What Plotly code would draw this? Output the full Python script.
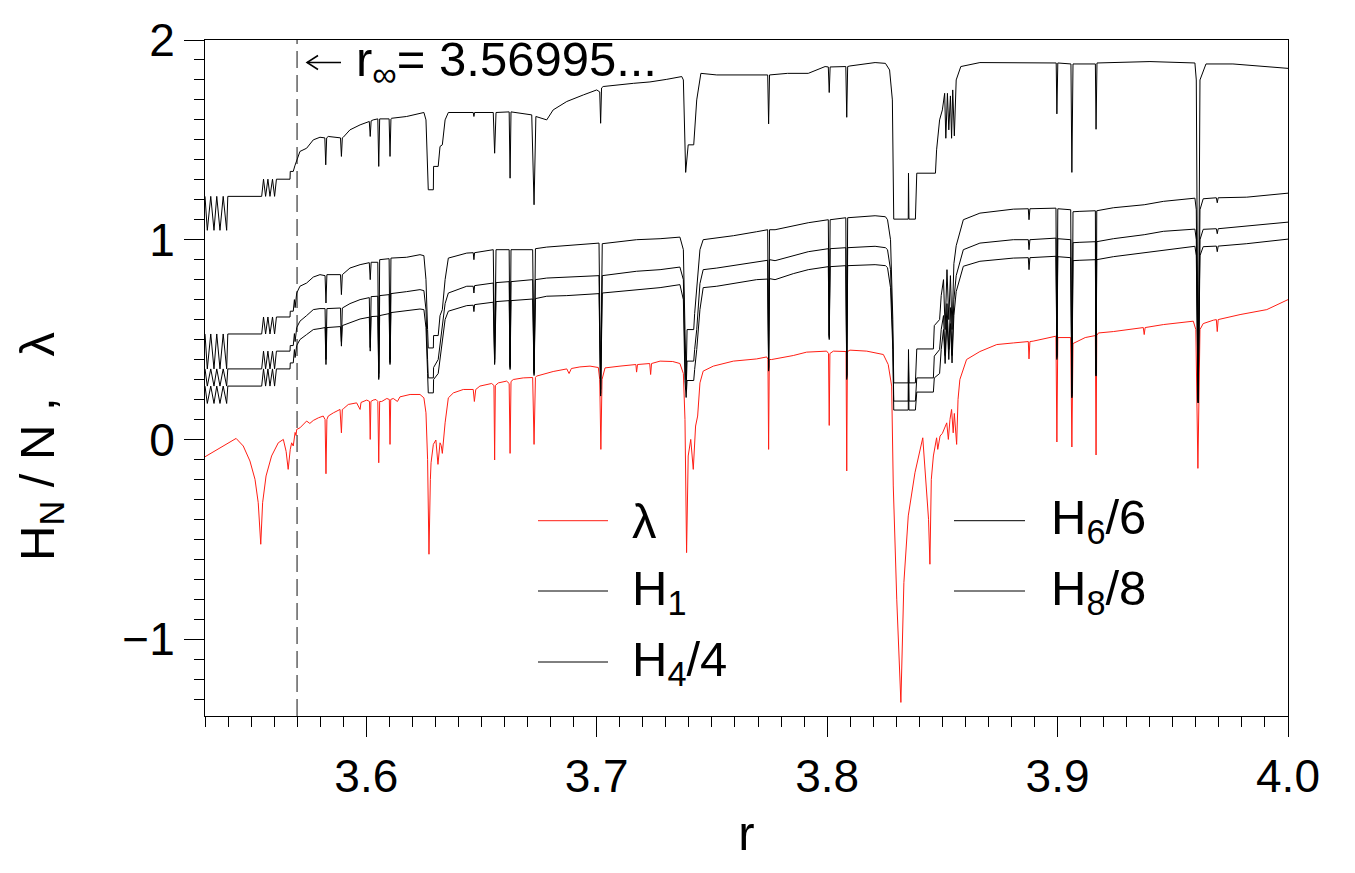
import plotly.graph_objects as go

# ---------------- data ----------------
# Lyapunov exponent lambda(r)
r_lam = [3.5300, 3.5435, 3.5466, 3.5495, 3.5517, 3.5531, 3.5542, 3.5550, 3.5565, 3.5589,
         3.5618, 3.5640, 3.5652, 3.5661, 3.5670, 3.5676, 3.5683, 3.5688, 3.5691, 3.5695,
         3.5698, 3.5712, 3.5741, 3.5755, 3.5770, 3.5792, 3.5813, 3.5821, 3.5825, 3.5829,
         3.5835, 3.5857, 3.5886, 3.5892, 3.5896, 3.5900, 3.5922, 3.5958, 3.5973, 3.5977,
         3.6002, 3.6014, 3.6017, 3.6020, 3.6030, 3.6042, 3.6050, 3.6054, 3.6058, 3.6067,
         3.6089, 3.6100, 3.6103, 3.6106, 3.6117, 3.6135, 3.6146, 3.6190, 3.6233, 3.6250,
         3.6259, 3.6266, 3.6272, 3.6278, 3.6281, 3.6291, 3.6302, 3.6311, 3.6320, 3.6325,
         3.6330, 3.6342, 3.6356, 3.6378, 3.6421, 3.6464, 3.6469, 3.6475, 3.6493, 3.6544,
         3.6554, 3.6557, 3.6560, 3.6573, 3.6609, 3.6620, 3.6624, 3.6628, 3.6638, 3.6681,
         3.6722, 3.6728, 3.6734, 3.6739, 3.6783, 3.6811, 3.6870, 3.6880, 3.6890, 3.6927,
         3.6971, 3.7007, 3.7013, 3.7018, 3.7023, 3.7036, 3.7101, 3.7170, 3.7173, 3.7177,
         3.7230, 3.7234, 3.7238, 3.7275, 3.7330, 3.7361, 3.7376, 3.7383, 3.7390, 3.7397,
         3.7408, 3.7419, 3.7429, 3.7438, 3.7448, 3.7462, 3.7506, 3.7593, 3.7694, 3.7738,
         3.7743, 3.7746, 3.7749, 3.7759, 3.7853, 3.7911, 3.7998, 3.8006, 3.8009, 3.8012,
         3.8027, 3.8082, 3.8085, 3.8088, 3.8099, 3.8172, 3.8244, 3.8265, 3.8280, 3.8287,
         3.8302, 3.8320, 3.8333, 3.8352, 3.8381, 3.8415, 3.8440, 3.8446, 3.8452, 3.8461,
         3.8475, 3.8480, 3.8490, 3.8500, 3.8519, 3.8526, 3.8533, 3.8540, 3.8547, 3.8552,
         3.8562, 3.8568, 3.8576, 3.8591, 3.8605, 3.8663, 3.8736, 3.8808, 3.8873, 3.8876,
         3.8880, 3.8894, 3.8981, 3.8993, 3.8997, 3.9001, 3.9057, 3.9062, 3.9067, 3.9084,
         3.9120, 3.9164, 3.9167, 3.9170, 3.9177, 3.9242, 3.9314, 3.9372, 3.9376, 3.9380,
         3.9459, 3.9589, 3.9600, 3.9609, 3.9618, 3.9632, 3.9676, 3.9689, 3.9693, 3.9697,
         3.9792, 3.9908, 4.0000]
lam = [-0.087, 0.005, -0.033, -0.108, -0.200, -0.317, -0.525, -0.317, -0.183, -0.083,
       -0.017, 0.000, -0.060, -0.150, -0.050, -0.017, -0.033, 0.000, 0.035, 0.020,
       0.050, 0.058, 0.092, 0.080, 0.095, 0.108, 0.117, 0.100, -0.172, 0.100,
       0.117, 0.133, 0.150, 0.033, 0.150, 0.153, 0.175, 0.183, 0.150, 0.185,
       0.197, 0.190, 0.000, 0.190, 0.197, 0.200, 0.190, -0.117, 0.190, 0.190,
       0.205, 0.200, -0.025, 0.200, 0.205, 0.190, 0.213, 0.225, 0.225, 0.208,
       0.133, -0.100, -0.575, -0.200, -0.117, -0.025, -0.003, -0.125, -0.017, -0.030,
       -0.070, 0.083, 0.208, 0.233, 0.250, 0.250, 0.190, 0.250, 0.267, 0.280,
       0.270, -0.103, 0.270, 0.283, 0.292, 0.280, -0.070, 0.290, 0.300, 0.308,
       0.310, -0.025, 0.310, 0.317, 0.330, 0.340, 0.353, 0.330, 0.355, 0.363,
       0.367, 0.360, 0.300, -0.050, 0.300, 0.358, 0.367, 0.375, 0.337, 0.375,
       0.380, 0.325, 0.380, 0.392, 0.390, 0.380, 0.330, 0.100, -0.567, -0.083,
       0.000, -0.150, 0.067, 0.117, 0.283, 0.342, 0.367, 0.392, 0.403, 0.413,
       0.400, -0.050, 0.400, 0.400, 0.420, 0.437, 0.442, 0.430, 0.070, 0.430,
       0.442, 0.440, -0.158, 0.440, 0.447, 0.442, 0.425, 0.375, 0.267, -0.233,
       -0.800, -1.317, -0.717, -0.383, -0.167, 0.008, -0.400, -0.625, -0.200, -0.083,
       0.008, -0.050, 0.017, 0.030, 0.083, 0.000, 0.100, 0.150, 0.033, 0.130,
       -0.025, 0.200, 0.300, 0.350, 0.400, 0.440, 0.475, 0.483, 0.490, 0.403,
       0.490, 0.492, 0.513, 0.517, -0.013, 0.510, 0.510, -0.038, 0.480, 0.490,
       0.510, 0.520, -0.078, 0.520, 0.533, 0.540, 0.553, 0.560, 0.525, 0.560,
       0.575, 0.592, 0.550, -0.145, 0.550, 0.580, 0.597, 0.600, 0.540, 0.600,
       0.625, 0.650, 0.700]

# H1 (block entropy, N = 1)
r_h1 = [3.5300, 3.5310, 3.5325, 3.5339, 3.5351, 3.5365, 3.5379, 3.5394, 3.5399, 3.5546,
        3.5554, 3.5563, 3.5573, 3.5582, 3.5593, 3.5602, 3.5610, 3.5669, 3.5670, 3.5683,
        3.5690, 3.5698, 3.5712, 3.5741, 3.5770, 3.5799, 3.5820, 3.5824, 3.5828, 3.5835,
        3.5888, 3.5892, 3.5896, 3.5900, 3.5929, 3.5973, 3.6013, 3.6017, 3.6021, 3.6030,
        3.6050, 3.6054, 3.6058, 3.6099, 3.6103, 3.6107, 3.6110, 3.6175, 3.6233, 3.6250,
        3.6259, 3.6266, 3.6269, 3.6291, 3.6292, 3.6312, 3.6320, 3.6330, 3.6342, 3.6356,
        3.6436, 3.6464, 3.6467, 3.6470, 3.6551, 3.6557, 3.6563, 3.6620, 3.6624, 3.6628,
        3.6718, 3.6728, 3.6736, 3.6783, 3.6811, 3.6870, 3.6942, 3.7000, 3.7013, 3.7017,
        3.7021, 3.7028, 3.7159, 3.7231, 3.7304, 3.7369, 3.7376, 3.7386, 3.7397, 3.7421,
        3.7434, 3.7452, 3.7521, 3.7742, 3.7746, 3.7750, 3.7828, 3.7918, 3.7991, 3.8005,
        3.8009, 3.8013, 3.8081, 3.8085, 3.8089, 3.8099, 3.8208, 3.8253, 3.8271, 3.8283,
        3.8289, 3.8352, 3.8353, 3.8355, 3.8383, 3.8389, 3.8470, 3.8475, 3.8488, 3.8500,
        3.8510, 3.8515, 3.8522, 3.8528, 3.8535, 3.8540, 3.8545, 3.8552, 3.8560, 3.8580,
        3.8663, 3.8859, 3.8994, 3.8997, 3.9001, 3.9058, 3.9062, 3.9067, 3.9164, 3.9167,
        3.9171, 3.9401, 3.9596, 3.9602, 3.9610, 3.9618, 3.9644, 3.9761, 3.9908, 4.0000]
h1 = [1.217, 1.047, 1.217, 1.047, 1.217, 1.047, 1.217, 1.047, 1.217, 1.217,
      1.303, 1.217, 1.303, 1.217, 1.303, 1.217, 1.303, 1.303, 1.342, 1.342,
      1.370, 1.400, 1.442, 1.458, 1.500, 1.513, 1.510, 1.375, 1.510, 1.517,
      1.510, 1.417, 1.510, 1.513, 1.550, 1.575, 1.592, 1.517, 1.595, 1.600,
      1.605, 1.367, 1.605, 1.605, 1.417, 1.605, 1.608, 1.617, 1.633, 1.637,
      1.600, 1.400, 1.250, 1.250, 1.367, 1.367, 1.467, 1.475, 1.600, 1.637,
      1.637, 1.637, 1.617, 1.637, 1.637, 1.433, 1.637, 1.640, 1.308, 1.640,
      1.625, 1.175, 1.617, 1.600, 1.650, 1.692, 1.725, 1.750, 1.740, 1.583,
      1.760, 1.767, 1.783, 1.790, 1.803, 1.817, 1.800, 1.337, 1.475, 1.475,
      1.700, 1.833, 1.825, 1.825, 1.580, 1.825, 1.833, 1.833, 1.867, 1.865,
      1.737, 1.865, 1.867, 1.613, 1.867, 1.870, 1.887, 1.883, 1.850, 1.700,
      1.103, 1.103, 1.333, 1.103, 1.103, 1.333, 1.333, 1.450, 1.600, 1.650,
      1.733, 1.508, 1.733, 1.550, 1.720, 1.508, 1.750, 1.520, 1.800, 1.867,
      1.887, 1.887, 1.885, 1.630, 1.885, 1.880, 1.337, 1.880, 1.880, 1.553,
      1.885, 1.892, 1.885, 1.800, 0.183, 1.800, 1.880, 1.880, 1.867, 1.858]

# H4/4, H6/6, H8/8 share the same r grid
r_hn = [3.5300, 3.5310, 3.5325, 3.5339, 3.5351, 3.5365, 3.5379, 3.5394, 3.5399, 3.5546,
        3.5554, 3.5563, 3.5573, 3.5582, 3.5593, 3.5602, 3.5610, 3.5669, 3.5670, 3.5683,
        3.5688, 3.5691, 3.5698, 3.5712, 3.5741, 3.5770, 3.5799, 3.5821, 3.5825, 3.5829,
        3.5888, 3.5892, 3.5896, 3.5929, 3.5973, 3.6013, 3.6017, 3.6021, 3.6050, 3.6054,
        3.6058, 3.6099, 3.6103, 3.6107, 3.6175, 3.6233, 3.6250, 3.6259, 3.6266, 3.6269,
        3.6291, 3.6292, 3.6312, 3.6320, 3.6330, 3.6342, 3.6356, 3.6436, 3.6464, 3.6467,
        3.6470, 3.6551, 3.6557, 3.6563, 3.6620, 3.6624, 3.6628, 3.6722, 3.6728, 3.6734,
        3.6783, 3.6870, 3.7010, 3.7017, 3.7024, 3.7173, 3.7275, 3.7361, 3.7376, 3.7383,
        3.7388, 3.7392, 3.7421, 3.7425, 3.7434, 3.7448, 3.7462, 3.7521, 3.7593, 3.7694,
        3.7742, 3.7746, 3.7750, 3.7774, 3.7853, 3.7918, 3.8005, 3.8009, 3.8013, 3.8081,
        3.8085, 3.8089, 3.8208, 3.8253, 3.8262, 3.8275, 3.8285, 3.8289, 3.8352, 3.8353,
        3.8355, 3.8383, 3.8389, 3.8461, 3.8465, 3.8488, 3.8495, 3.8505, 3.8512, 3.8520,
        3.8528, 3.8535, 3.8542, 3.8550, 3.8560, 3.8591, 3.8663, 3.8808, 3.8873, 3.8876,
        3.8880, 3.8993, 3.8997, 3.9001, 3.9057, 3.9062, 3.9067, 3.9097, 3.9164, 3.9167,
        3.9170, 3.9242, 3.9376, 3.9459, 3.9596, 3.9602, 3.9610, 3.9618, 3.9632, 3.9689,
        3.9693, 3.9697, 3.9821, 4.0000]
h4 = [0.528, 0.353, 0.528, 0.353, 0.528, 0.353, 0.528, 0.353, 0.528, 0.528,
      0.613, 0.528, 0.613, 0.528, 0.613, 0.528, 0.613, 0.613, 0.642, 0.642,
      0.700, 0.660, 0.733, 0.767, 0.783, 0.813, 0.825, 0.820, 0.683, 0.825,
      0.825, 0.725, 0.825, 0.858, 0.875, 0.885, 0.800, 0.887, 0.887, 0.330,
      0.900, 0.905, 0.400, 0.908, 0.912, 0.925, 0.920, 0.800, 0.550, 0.458,
      0.458, 0.520, 0.520, 0.620, 0.650, 0.800, 0.908, 0.933, 0.935, 0.900,
      0.935, 0.950, 0.400, 0.950, 0.950, 0.370, 0.950, 0.950, 0.340, 0.955,
      0.963, 0.970, 0.983, 0.250, 0.980, 1.000, 1.005, 1.013, 0.950, 0.550,
      0.300, 0.550, 0.550, 0.630, 0.750, 0.950, 1.000, 1.008, 1.020, 1.040,
      1.050, 0.360, 1.050, 1.050, 1.070, 1.085, 1.100, 0.520, 1.100, 1.110,
      0.320, 1.110, 1.120, 1.115, 1.100, 1.000, 0.600, 0.283, 0.283, 0.450,
      0.283, 0.283, 0.453, 0.453, 0.570, 0.600, 0.720, 0.800, 0.550, 0.850,
      0.600, 0.820, 0.550, 0.880, 0.970, 1.100, 1.133, 1.153, 1.155, 1.100,
      1.155, 1.158, 0.420, 1.155, 1.150, 0.230, 1.140, 1.142, 1.145, 0.330,
      1.145, 1.160, 1.175, 1.192, 1.208, 1.150, 0.200, 1.150, 1.205, 1.210,
      1.185, 1.210, 1.213, 1.233]
h6 = [0.353, 0.267, 0.353, 0.267, 0.353, 0.267, 0.353, 0.267, 0.353, 0.353,
      0.442, 0.353, 0.442, 0.353, 0.442, 0.353, 0.442, 0.442, 0.470, 0.470,
      0.530, 0.490, 0.560, 0.592, 0.620, 0.650, 0.655, 0.655, 0.400, 0.655,
      0.658, 0.490, 0.658, 0.680, 0.700, 0.710, 0.460, 0.715, 0.717, 0.310,
      0.720, 0.725, 0.385, 0.730, 0.740, 0.750, 0.745, 0.650, 0.400, 0.308,
      0.308, 0.360, 0.400, 0.470, 0.550, 0.680, 0.733, 0.767, 0.767, 0.733,
      0.770, 0.783, 0.385, 0.785, 0.790, 0.360, 0.790, 0.800, 0.330, 0.800,
      0.808, 0.813, 0.820, 0.230, 0.820, 0.842, 0.850, 0.863, 0.800, 0.392,
      0.250, 0.392, 0.392, 0.450, 0.550, 0.780, 0.850, 0.858, 0.870, 0.890,
      0.897, 0.350, 0.900, 0.895, 0.920, 0.940, 0.955, 0.510, 0.955, 0.960,
      0.310, 0.960, 0.967, 0.960, 0.950, 0.850, 0.500, 0.192, 0.192, 0.400,
      0.192, 0.192, 0.308, 0.308, 0.417, 0.450, 0.550, 0.620, 0.420, 0.680,
      0.450, 0.660, 0.420, 0.700, 0.820, 0.950, 0.983, 1.000, 1.000, 0.950,
      1.000, 1.008, 0.410, 1.005, 1.000, 0.215, 0.985, 0.987, 0.990, 0.320,
      0.990, 1.005, 1.025, 1.042, 1.053, 1.000, 0.190, 1.000, 1.052, 1.055,
      1.030, 1.055, 1.067, 1.088]
h8 = [0.267, 0.180, 0.267, 0.180, 0.267, 0.180, 0.267, 0.180, 0.267, 0.267,
      0.353, 0.267, 0.353, 0.267, 0.353, 0.267, 0.353, 0.353, 0.383, 0.383,
      0.450, 0.410, 0.470, 0.500, 0.525, 0.550, 0.555, 0.560, 0.375, 0.560,
      0.565, 0.467, 0.570, 0.585, 0.603, 0.612, 0.442, 0.615, 0.617, 0.300,
      0.620, 0.630, 0.375, 0.635, 0.645, 0.653, 0.650, 0.560, 0.330, 0.233,
      0.233, 0.300, 0.330, 0.400, 0.470, 0.600, 0.642, 0.670, 0.672, 0.640,
      0.675, 0.687, 0.375, 0.690, 0.695, 0.350, 0.695, 0.703, 0.320, 0.705,
      0.717, 0.720, 0.730, 0.217, 0.733, 0.750, 0.760, 0.775, 0.700, 0.295,
      0.210, 0.295, 0.295, 0.350, 0.450, 0.650, 0.760, 0.767, 0.780, 0.800,
      0.803, 0.342, 0.805, 0.800, 0.830, 0.850, 0.865, 0.500, 0.865, 0.870,
      0.300, 0.870, 0.875, 0.870, 0.860, 0.760, 0.450, 0.147, 0.147, 0.350,
      0.147, 0.147, 0.237, 0.237, 0.308, 0.330, 0.450, 0.550, 0.380, 0.600,
      0.400, 0.580, 0.383, 0.620, 0.740, 0.867, 0.892, 0.908, 0.910, 0.850,
      0.910, 0.917, 0.400, 0.915, 0.910, 0.208, 0.895, 0.897, 0.900, 0.317,
      0.900, 0.915, 0.935, 0.950, 0.967, 0.920, 0.183, 0.920, 0.965, 0.968,
      0.940, 0.968, 0.980, 1.003]

r_inf = 3.56995
x_tick_vals = [3.6, 3.7, 3.8, 3.9, 4.0]
x_tick_text = ["3.6", "3.7", "3.8", "3.9", "4.0"]
y_tick_vals = [-1, 0, 1, 2]
y_tick_text = ["\u22121", "0", "1", "2"]
legend_col1 = ["\u03bb", "H<sub>1</sub>", "H<sub>4</sub>/4"]
legend_col2 = ["H<sub>6</sub>/6", "H<sub>8</sub>/8"]

assert len(r_lam) == len(lam)
assert len(r_h1) == len(h1)
assert len(r_hn) == len(h4) == len(h6) == len(h8)

RED = "rgb(255,30,20)"
FONT = "Liberation Sans, Arial, Helvetica, sans-serif"
FS_TICK = 46
FS_TEXT = 49
NB = "\u00a0"

# plot-area geometry (pixels) used to place paper-referenced decorations
L, R, T, B = 205, 1288, 40, 716
def px(xp):
    return (xp - L) / (R - L)
def py(yp):
    return (B - yp) / (B - T)

fig = go.Figure()
fig.add_trace(go.Scatter(x=r_lam, y=lam, mode="lines", line=dict(color=RED, width=1), showlegend=False))
fig.add_trace(go.Scatter(x=r_h1, y=h1, mode="lines", line=dict(color="black", width=1), showlegend=False))
for ys in (h4, h6, h8):
    fig.add_trace(go.Scatter(x=r_hn, y=ys, mode="lines", line=dict(color="black", width=1), showlegend=False))

# dashed marker of r_infinity
fig.add_shape(type="line", xref="x", yref="paper", x0=r_inf, x1=r_inf, y0=0, y1=1,
              line=dict(color="#111111", width=1, dash="17px,7px"))
# arrow pointing at the dashed line
fig.add_shape(type="line", xref="paper", yref="paper", x0=px(307), x1=px(341), y0=py(62.5), y1=py(62.5),
              line=dict(color="black", width=1.5))
fig.add_shape(type="path", xref="paper", yref="paper",
              path=f"M {px(318)} {py(55.5)} L {px(307)} {py(62.5)} L {px(318)} {py(69.5)}",
              line=dict(color="black", width=1.5))
fig.add_annotation(xref="paper", yref="paper", x=px(354), y=py(62), xanchor="left", yanchor="middle",
                   text="r<sub>\u221e</sub>= 3.56995...", showarrow=False,
                   font=dict(family=FONT, size=FS_TEXT, color="black"))

# y-axis title
fig.add_annotation(xref="paper", yref="paper", x=px(40), y=py(447), textangle=-90,
                   xanchor="center", yanchor="middle", showarrow=False,
                   text="H<sub>N</sub>" + NB + "/" + NB + "N" + NB + "," + NB * 3 + "\u03bb",
                   font=dict(family=FONT, size=FS_TEXT, color="black"))

# legend drawn in two columns
rows_y = [py(520.7), py(591), py(662)]
colors1 = [RED, "black", "black"]
for lbl, yy, cc in zip(legend_col1, rows_y, colors1):
    fig.add_shape(type="line", xref="paper", yref="paper", x0=px(538), x1=px(608), y0=yy, y1=yy,
                  line=dict(color=cc, width=1))
    fig.add_annotation(xref="paper", yref="paper", x=px(630), y=yy, xanchor="left", yanchor="middle",
                       text=lbl, showarrow=False, font=dict(family=FONT, size=FS_TEXT, color="black"))
for lbl, yy in zip(legend_col2, rows_y[:2]):
    fig.add_shape(type="line", xref="paper", yref="paper", x0=px(954), x1=px(1025), y0=yy, y1=yy,
                  line=dict(color="black", width=1))
    fig.add_annotation(xref="paper", yref="paper", x=px(1049), y=yy, xanchor="left", yanchor="middle",
                       text=lbl, showarrow=False, font=dict(family=FONT, size=FS_TEXT, color="black"))

fig.update_layout(
    width=1355, height=873,
    margin=dict(l=L, r=1355 - R, t=T, b=873 - B, autoexpand=False),
    paper_bgcolor="white", plot_bgcolor="white",
    font=dict(family=FONT, size=FS_TICK, color="black"),
    showlegend=False,
)
fig.update_xaxes(range=[3.53, 4.0], tickvals=x_tick_vals, ticktext=x_tick_text,
                 ticks="outside", ticklen=20, tickwidth=1, tickcolor="black",
                 minor=dict(dtick=0.01, tick0=3.5, ticks="outside", ticklen=10, tickwidth=1, tickcolor="black"),
                 showline=True, linecolor="black", linewidth=1, mirror=True,
                 showgrid=False, zeroline=False,
                 tickfont=dict(family=FONT, size=FS_TICK),
                 title=dict(text="r", font=dict(family=FONT, size=FS_TEXT), standoff=14))
fig.update_yaxes(range=[-1.385, 2.0], tickvals=y_tick_vals, ticktext=y_tick_text,
                 ticks="outside", ticklen=20, tickwidth=1, tickcolor="black",
                 minor=dict(dtick=0.1, tick0=0, ticks="outside", ticklen=10, tickwidth=1, tickcolor="black"),
                 showline=True, linecolor="black", linewidth=1, mirror=True,
                 showgrid=False, zeroline=False,
                 tickfont=dict(family=FONT, size=FS_TICK))

fig.write_html("out.html")
